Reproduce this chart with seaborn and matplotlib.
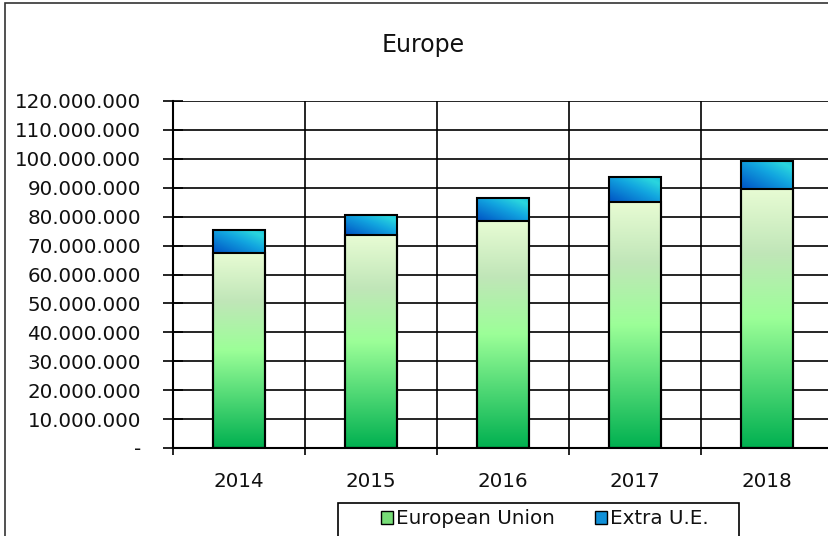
import numpy as np
import pandas as pd
import matplotlib
matplotlib.use("Agg")
import matplotlib.pyplot as plt
import seaborn as sns
from matplotlib.colors import LinearSegmentedColormap
from matplotlib.patches import Rectangle, Patch
from matplotlib.ticker import FuncFormatter, MultipleLocator, FixedLocator

years = ["2014", "2015", "2016", "2017", "2018"]
eu = [67.5e6, 73.5e6, 78.6e6, 85.2e6, 89.6e6]
extra = [7.9e6, 7.1e6, 7.8e6, 8.4e6, 9.7e6]
total = [a + b for a, b in zip(eu, extra)]

df = pd.DataFrame({"year": years, "eu": eu, "total": total})

sns.set_style("white")
plt.rcParams["font.family"] = ["DejaVu Sans"]

fig = plt.figure(figsize=(8.29, 5.36), dpi=100)
ax = fig.add_axes([173 / 829, 1 - 448 / 536, 660 / 829, 347 / 536])

sns.barplot(data=df, x="year", y="total", color="#1090d8", width=0.4, ax=ax)
sns.barplot(data=df, x="year", y="eu", color="#77dd77", width=0.4, ax=ax)

# gradients like the Excel fill
green = LinearSegmentedColormap.from_list(
    "g", [(0, "#00b050"), (0.5, "#9cff98"), (0.75, "#c0e6b8"), (1, "#e8fcd4")])
blue = LinearSegmentedColormap.from_list(
    "b", [(0, "#0052c4"), (0.55, "#12a6e0"), (0.85, "#2ad6de"), (1, "#1ec4e0")])

n = len(years)
tot_patches = ax.patches[:n]
eu_patches = ax.patches[n:2 * n]

vgrad = np.linspace(0, 1, 256).reshape(-1, 1)
uu, vv = np.meshgrid(np.linspace(0, 1, 64), np.linspace(0, 1, 64))
dgrad = (uu + vv) / 2

for p, base in zip(tot_patches, eu):
    x0, w, top = p.get_x(), p.get_width(), p.get_y() + p.get_height()
    ax.imshow(dgrad, cmap=blue, extent=[x0, x0 + w, base, top], origin="lower",
              aspect="auto", zorder=2.5, interpolation="bilinear")
    p.set_facecolor("none")
    p.set_edgecolor("black")
    p.set_linewidth(1.5)
    p.set_zorder(3)

for p in eu_patches:
    x0, w, h = p.get_x(), p.get_width(), p.get_height()
    ax.imshow(vgrad, cmap=green, extent=[x0, x0 + w, p.get_y(), p.get_y() + h],
              origin="lower", aspect="auto", zorder=2.5, interpolation="bilinear")
    p.set_facecolor("none")
    p.set_edgecolor("black")
    p.set_linewidth(1.5)
    p.set_zorder(3)

ax.set_xlim(-0.5, n - 0.5)
ax.set_ylim(0, 120e6)
ax.yaxis.set_major_locator(MultipleLocator(10e6))
ax.yaxis.set_major_formatter(FuncFormatter(
    lambda v, pos: f"{int(round(v)):,}".replace(",", ".") if v else "-"))
ax.xaxis.set_minor_locator(FixedLocator(np.arange(-0.5, n, 1.0)))

ax.set_axisbelow(True)
ax.grid(which="major", axis="y", color="black", linewidth=1.2)
ax.grid(which="minor", axis="x", color="black", linewidth=1.2)
ax.grid(which="major", axis="x", visible=False)

ax.tick_params(axis="y", direction="inout", length=14, width=1.2, pad=16,
               labelsize=14.3, left=True, color="black", labelcolor="#111111")
ax.tick_params(axis="x", which="major", length=0, pad=17, labelsize=14.3,
               labelcolor="#111111")
ax.tick_params(axis="x", which="minor", direction="out", length=5, width=1.2,
               bottom=True, color="black")

for s in ["top", "right"]:
    ax.spines[s].set_visible(False)
for s in ["left", "bottom"]:
    ax.spines[s].set_color("black")
    ax.spines[s].set_linewidth(1.5)

ax.set_xlabel("")
ax.set_ylabel("")

# chart area border
fig.add_artist(Rectangle((5 / 829, -0.1), 1.1, 1.1 - 3 / 536, transform=fig.transFigure,
                         fill=False, edgecolor="#333333", linewidth=1.2))

fig.text(423 / 829, 1 - 45 / 536, "Europe", ha="center", va="center", fontsize=17,
         color="#111111")

# legend box
fig.add_artist(Rectangle((338 / 829, -0.05), 401 / 829, 0.05 + 1 - 503 / 536,
                         transform=fig.transFigure, fill=False, edgecolor="black",
                         linewidth=1.2))
handles = [Patch(facecolor="#77dd77", edgecolor="black", label="European Union"),
           Patch(facecolor="#1090d8", edgecolor="black", label="Extra U.E.")]
fig.legend(handles=handles, loc="center", bbox_to_anchor=(545 / 829, 1 - 519 / 536),
           ncol=2, frameon=False, fontsize=14.3, handlelength=0.6, handleheight=0.6,
           handletextpad=0.15, columnspacing=2.0, borderpad=0, labelcolor="#111111")

fig.savefig("out.png", dpi=100)
